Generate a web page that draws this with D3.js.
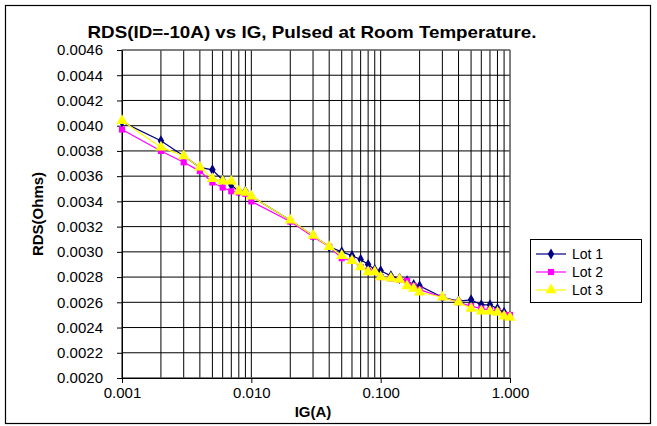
<!DOCTYPE html>
<html>
<head>
<meta charset="utf-8">
<script src="https://cdn.jsdelivr.net/npm/d3@7"></script>
<style>
  body { margin: 0; background: #fff; }
  svg { font-family: "Liberation Sans", Arial, sans-serif; }
</style>
</head>
<body>
<svg id="chart" width="657" height="426"></svg>
<script>
// gate current values, amps
const igValues = [0.001, 0.002, 0.003, 0.004, 0.005, 0.006, 0.007, 0.008, 0.009, 0.01,
  0.02, 0.03, 0.04, 0.05, 0.06, 0.07, 0.08, 0.09, 0.1,
  0.12, 0.14, 0.16, 0.18, 0.2, 0.3, 0.4, 0.5, 0.6, 0.7, 0.8, 0.9, 1.0];

const lot1 = [0.00403, 0.00388, 0.00376, 0.00367, 0.00365, 0.00357, 0.00353, 0.00348, 0.00348, 0.00344,
  0.00325, 0.00313, 0.00304, 0.00300, 0.00297, 0.00294, 0.00290, 0.00286, 0.00285,
  0.00281, 0.00279, 0.00277, 0.00274, 0.00273, 0.00264, 0.00261, 0.00262, 0.00258, 0.00258, 0.00255, 0.00252, 0.00249];

const lot2 = [0.00397, 0.00380, 0.00371, 0.00364, 0.00355, 0.00351, 0.00348, 0.00347, 0.00346, 0.00340,
  0.00324, 0.00312, 0.00304, 0.00295, 0.00293, 0.00288, 0.00285, 0.00284, 0.00280,
  0.00279, 0.00278, 0.00277, 0.00273, 0.00270, 0.00264, 0.00260, 0.00257, 0.00255, 0.00254, 0.00253, 0.00250, 0.00250];

const lot3 = [0.00404, 0.00383, 0.00376, 0.00367, 0.00358, 0.00356, 0.00356, 0.00348, 0.00347, 0.00344,
  0.00325, 0.00313, 0.00304, 0.00297, 0.00293, 0.00288, 0.00284, 0.00284, 0.00280,
  0.00279, 0.00278, 0.00273, 0.00271, 0.00268, 0.00264, 0.00260, 0.00255, 0.00253, 0.00253, 0.00252, 0.00249, 0.00248];

const seriesNames = ["Lot 1", "Lot 2", "Lot 3"];
const xTicks = [0.001, 0.01, 0.1, 1];
const yTicks = [0.0020, 0.0022, 0.0024, 0.0026, 0.0028, 0.0030, 0.0032, 0.0034,
  0.0036, 0.0038, 0.0040, 0.0042, 0.0044, 0.0046];

const svg = d3.select("#chart");
const margin = { top: 50, right: 147, bottom: 48, left: 122 };
const width = 657 - margin.left - margin.right;
const height = 426 - margin.top - margin.bottom;

// outer frame
svg.append("rect")
  .attr("x", 5.5).attr("y", 5.5)
  .attr("width", 645).attr("height", 418)
  .attr("fill", "#fff").attr("stroke", "#000").attr("stroke-width", 1.2);

svg.append("text")
  .attr("x", 312).attr("y", 38)
  .attr("text-anchor", "middle")
  .attr("font-weight", "bold").attr("font-size", 17)
  .attr("textLength", 449).attr("lengthAdjust", "spacingAndGlyphs")
  .text("RDS(ID=-10A) vs IG, Pulsed at Room Temperature.");

const x = d3.scaleLog().domain([0.001, 1]).range([0, width]);
const y = d3.scaleLinear().domain([0.0020, 0.0046]).range([height, 0]);

const g = svg.append("g")
  .attr("transform", "translate(" + margin.left + "," + margin.top + ")");

// gridlines
g.append("g").selectAll("line")
  .data(yTicks)
  .enter().append("line")
  .attr("x1", 0).attr("x2", width)
  .attr("y1", d => y(d)).attr("y2", d => y(d))
  .attr("stroke", "#000").attr("stroke-width", 1);

g.append("g").selectAll("line")
  .data(x.ticks())
  .enter().append("line")
  .attr("x1", d => x(d)).attr("x2", d => x(d))
  .attr("y1", 0).attr("y2", height)
  .attr("stroke", "#000").attr("stroke-width", 1);

// plot border (top / right grey)
g.append("rect")
  .attr("width", width).attr("height", height)
  .attr("fill", "none").attr("stroke", "#808080");

const yAxis = g.append("g")
  .call(d3.axisLeft(y).tickValues(yTicks).tickFormat(d3.format(".4f"))
    .tickSize(5).tickSizeOuter(0).tickPadding(14));

const xAxis = g.append("g")
  .attr("transform", "translate(0," + height + ")")
  .call(d3.axisBottom(x).tickValues(xTicks).tickFormat(d3.format(".3f"))
    .tickSize(5).tickSizeOuter(0).tickPadding(4));

[yAxis, xAxis].forEach(a => {
  a.selectAll("text").attr("font-size", 15).attr("fill", "#000")
    .attr("font-family", "Liberation Sans, Arial, sans-serif");
  a.selectAll("line, path").attr("stroke", "#000");
});

svg.append("text")
  .attr("transform", "translate(43," + (margin.top + height / 2) + ") rotate(-90)")
  .attr("text-anchor", "middle")
  .attr("font-weight", "bold").attr("font-size", 15)
  .text("RDS(Ohms)");

svg.append("text")
  .attr("x", margin.left + width / 2 - 3).attr("y", 417)
  .attr("text-anchor", "middle")
  .attr("font-weight", "bold").attr("font-size", 15)
  .text("IG(A)");

// series
const colors = ["#000080", "#ff00ff", "#ffff00"];
const shapes = [d3.symbolDiamond, d3.symbolSquare, d3.symbolTriangle];
const sizes = [36, 38, 55];
const allSeries = [lot1, lot2, lot3];

const line = d3.line()
  .x((d, i) => x(igValues[i]))
  .y(d => y(d));

allSeries.forEach((vals, s) => {
  g.append("path")
    .datum(vals)
    .attr("fill", "none")
    .attr("stroke", colors[s])
    .attr("stroke-width", 1.2)
    .attr("d", line);

  g.append("g").selectAll("path")
    .data(vals)
    .enter().append("path")
    .attr("transform", (d, i) => "translate(" + x(igValues[i]) + "," + y(d) + ")")
    .attr("d", d3.symbol().type(shapes[s]).size(sizes[s]))
    .attr("fill", colors[s]);
});

// legend
const legend = svg.append("g").attr("transform", "translate(530,239)");
legend.append("rect")
  .attr("x", 0.5).attr("y", 0.5)
  .attr("width", 111).attr("height", 63)
  .attr("fill", "#fff").attr("stroke", "#000");

seriesNames.forEach((name, s) => {
  const ly = 15 + s * 18;
  legend.append("line")
    .attr("x1", 6).attr("x2", 36).attr("y1", ly).attr("y2", ly)
    .attr("stroke", colors[s]).attr("stroke-width", 1.2);
  legend.append("path")
    .attr("transform", "translate(21," + ly + ")")
    .attr("d", d3.symbol().type(shapes[s]).size(sizes[s]))
    .attr("fill", colors[s]);
  legend.append("text")
    .attr("x", 42).attr("y", ly + 5)
    .attr("font-size", 14)
    .text(name);
});
</script>
</body>
</html>
